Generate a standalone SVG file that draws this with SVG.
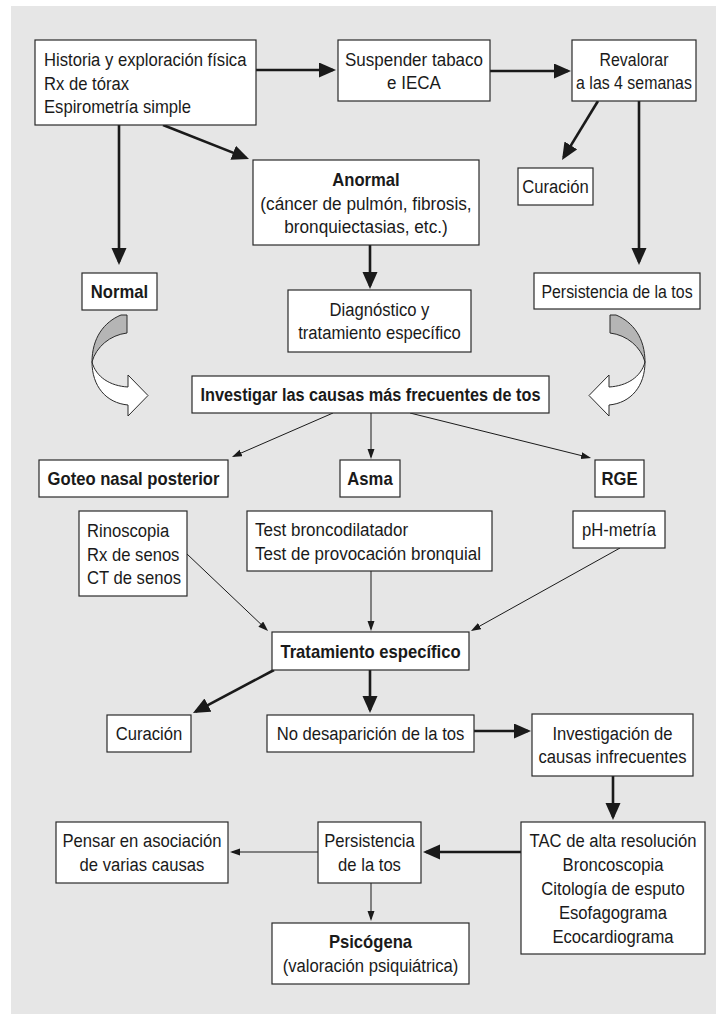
<svg xmlns="http://www.w3.org/2000/svg" width="716" height="1014" viewBox="0 0 716 1014">
<style>
.bx{fill:#fff;stroke:#2a2a2a;stroke-width:1.2}
.t{font-family:'Liberation Sans',Arial,sans-serif;font-size:18.5px;fill:#1a1a1a}
.b{font-weight:bold}
.m{text-anchor:middle}
.thick{stroke:#1a1a1a;stroke-width:2.6;fill:none;marker-end:url(#ah)}
.thin{stroke:#1a1a1a;stroke-width:1;fill:none;marker-end:url(#as)}
</style>
<defs>
<marker id="ah" markerUnits="userSpaceOnUse" markerWidth="18" markerHeight="16" refX="14" refY="7.5" orient="auto">
<path d="M0,0 L17,7.5 L0,15 z" fill="#1a1a1a"/>
</marker>
<marker id="as" markerUnits="userSpaceOnUse" markerWidth="11" markerHeight="8" refX="8" refY="3.5" orient="auto">
<path d="M0,0 L10,3.5 L0,7 z" fill="#1a1a1a"/>
</marker>
<g id="curv">
<path d="M121,315 C104,322 92,338 92,362 C96,347 110,335 127,333 V315 Z" fill="#b5b5b5" stroke="#2a2a2a" stroke-width="1"/>
<path d="M92,362 C96,377 110,386 128,387 V375 L148,395.5 L128,416 V405 C106,403 92,386 92,362 Z" fill="#fff" stroke="#2a2a2a" stroke-width="1"/>
</g>
</defs>
<rect x="11" y="6" width="705" height="1008" fill="#e6e6e6"/>

<g id="connectors">
<line class="thick" x1="256" y1="70" x2="333" y2="70"/>
<line class="thick" x1="490" y1="71" x2="568" y2="71"/>
<line class="thick" x1="119" y1="125" x2="119" y2="262"/>
<line class="thick" x1="163" y1="125" x2="246.2" y2="157.9"/>
<line class="thick" x1="598" y1="101" x2="563.6" y2="157.4"/>
<line class="thick" x1="639" y1="101" x2="639" y2="262"/>
<line class="thick" x1="370" y1="245" x2="370" y2="286"/>
<line class="thin" x1="333" y1="413" x2="233.8" y2="456.2"/>
<line class="thin" x1="371" y1="413" x2="371" y2="457"/>
<line class="thin" x1="410" y1="413" x2="589.1" y2="457.5"/>
<line class="thin" x1="187" y1="554" x2="266.6" y2="629.6"/>
<line class="thin" x1="371" y1="571" x2="371" y2="629"/>
<line class="thin" x1="620" y1="548" x2="472.7" y2="630"/>
<line class="thick" x1="274" y1="670" x2="195.6" y2="711.6"/>
<line class="thick" x1="370" y1="670" x2="370" y2="710"/>
<line class="thick" x1="474" y1="731" x2="528" y2="731"/>
<line class="thick" x1="613" y1="776" x2="613" y2="817"/>
<line class="thick" x1="521" y1="852" x2="426" y2="852"/>
<line class="thin" x1="318" y1="852" x2="232" y2="852"/>
<line class="thin" x1="371" y1="883" x2="371" y2="919"/>
<use href="#curv"/>
<use href="#curv" transform="matrix(-1,0,0,1,737,0)"/>
</g>

<g id="n-historia"><rect class="bx" x="35" y="40" width="221" height="85"/>
<text class="t" transform="translate(44,66) scale(0.9,1)">Historia y exploración física</text>
<text class="t" transform="translate(44,89.5) scale(0.9,1)">Rx de tórax</text>
<text class="t" transform="translate(44,113) scale(0.9,1)">Espirometría simple</text></g>

<g id="n-suspender"><rect class="bx" x="338" y="40" width="152" height="61"/>
<text class="t m" transform="translate(414,65.5) scale(0.92,1)">Suspender tabaco</text>
<text class="t m" transform="translate(414,89) scale(0.92,1)">e IECA</text></g>

<g id="n-revalorar"><rect class="bx" x="572" y="40" width="124" height="61"/>
<text class="t m" transform="translate(634,65.5) scale(0.86,1)">Revalorar</text>
<text class="t m" transform="translate(634,89) scale(0.86,1)">a las 4 semanas</text></g>

<g id="n-anormal"><rect class="bx" x="253" y="160" width="226" height="85"/>
<text class="t m b" transform="translate(366,186) scale(0.9,1)">Anormal</text>
<text class="t m" transform="translate(366,209.5) scale(0.93,1)">(cáncer de pulmón, fibrosis,</text>
<text class="t m" transform="translate(366,233) scale(0.93,1)">bronquiectasias, etc.)</text></g>

<g id="n-curacion1"><rect class="bx" x="518" y="168" width="75" height="37"/>
<text class="t m" transform="translate(555.5,193) scale(0.9,1)">Curación</text></g>

<g id="n-normal"><rect class="bx" x="82" y="273" width="75" height="37"/>
<text class="t m b" transform="translate(119.5,298) scale(0.9,1)">Normal</text></g>

<g id="n-persist1"><rect class="bx" x="534" y="273" width="166" height="36"/>
<text class="t m" transform="translate(617,297.5) scale(0.86,1)">Persistencia de la tos</text></g>

<g id="n-diagnostico"><rect class="bx" x="288" y="290" width="183" height="62"/>
<text class="t m" transform="translate(379.5,315.5) scale(0.9,1)">Diagnóstico y</text>
<text class="t m" transform="translate(379.5,339) scale(0.9,1)">tratamiento específico</text></g>

<g id="n-investigar"><rect class="bx" x="192" y="376" width="357" height="37"/>
<text class="t m b" transform="translate(370.5,401) scale(0.88,1)">Investigar las causas más frecuentes de tos</text></g>

<g id="n-goteo"><rect class="bx" x="39" y="460" width="189" height="37"/>
<text class="t m b" transform="translate(133.5,485) scale(0.9,1)">Goteo nasal posterior</text></g>

<g id="n-asma"><rect class="bx" x="340" y="460" width="60" height="37"/>
<text class="t m b" transform="translate(370,485) scale(0.9,1)">Asma</text></g>

<g id="n-rge"><rect class="bx" x="595" y="460" width="49" height="37"/>
<text class="t m b" transform="translate(619.5,485) scale(0.9,1)">RGE</text></g>

<g id="n-rinoscopia"><rect class="bx" x="79" y="511" width="108" height="85"/>
<text class="t" transform="translate(87,537) scale(0.9,1)">Rinoscopia</text>
<text class="t" transform="translate(87,560.5) scale(0.9,1)">Rx de senos</text>
<text class="t" transform="translate(87,584) scale(0.9,1)">CT de senos</text></g>

<g id="n-test"><rect class="bx" x="247" y="511" width="245" height="60"/>
<text class="t" transform="translate(255,536) scale(0.92,1)">Test broncodilatador</text>
<text class="t" transform="translate(255,559.5) scale(0.92,1)">Test de provocación bronquial</text></g>

<g id="n-ph"><rect class="bx" x="573" y="511" width="92" height="37"/>
<text class="t m" transform="translate(619,536) scale(0.9,1)">pH-metría</text></g>

<g id="n-tratamiento"><rect class="bx" x="272" y="632" width="197" height="38"/>
<text class="t m b" transform="translate(370.5,657.5) scale(0.9,1)">Tratamiento específico</text></g>

<g id="n-curacion2"><rect class="bx" x="107" y="715" width="84" height="37"/>
<text class="t m" transform="translate(149,740) scale(0.9,1)">Curación</text></g>

<g id="n-nodesap"><rect class="bx" x="267" y="715" width="207" height="37"/>
<text class="t m" transform="translate(370.5,740) scale(0.9,1)">No desaparición de la tos</text></g>

<g id="n-investigacion"><rect class="bx" x="532" y="714" width="161" height="62"/>
<text class="t m" transform="translate(612.5,739.5) scale(0.9,1)">Investigación de</text>
<text class="t m" transform="translate(612.5,763) scale(0.9,1)">causas infrecuentes</text></g>

<g id="n-tac"><rect class="bx" x="521" y="822" width="184" height="132"/>
<text class="t m" transform="translate(613,846.5) scale(0.9,1)">TAC de alta resolución</text>
<text class="t m" transform="translate(613,870.5) scale(0.9,1)">Broncoscopia</text>
<text class="t m" transform="translate(613,894.5) scale(0.9,1)">Citología de esputo</text>
<text class="t m" transform="translate(613,918.5) scale(0.9,1)">Esofagograma</text>
<text class="t m" transform="translate(613,942.5) scale(0.9,1)">Ecocardiograma</text></g>

<g id="n-persist2"><rect class="bx" x="318" y="822" width="103" height="61"/>
<text class="t m" transform="translate(369.5,847) scale(0.9,1)">Persistencia</text>
<text class="t m" transform="translate(369.5,871) scale(0.9,1)">de la tos</text></g>

<g id="n-pensar"><rect class="bx" x="56" y="822" width="172" height="61"/>
<text class="t m" transform="translate(142,847) scale(0.9,1)">Pensar en asociación</text>
<text class="t m" transform="translate(142,871) scale(0.9,1)">de varias causas</text></g>

<g id="n-psicogena"><rect class="bx" x="272" y="923" width="197" height="61"/>
<text class="t m b" transform="translate(370.5,948) scale(0.9,1)">Psicógena</text>
<text class="t m" transform="translate(370.5,972) scale(0.9,1)">(valoración psiquiátrica)</text></g>
</svg>
